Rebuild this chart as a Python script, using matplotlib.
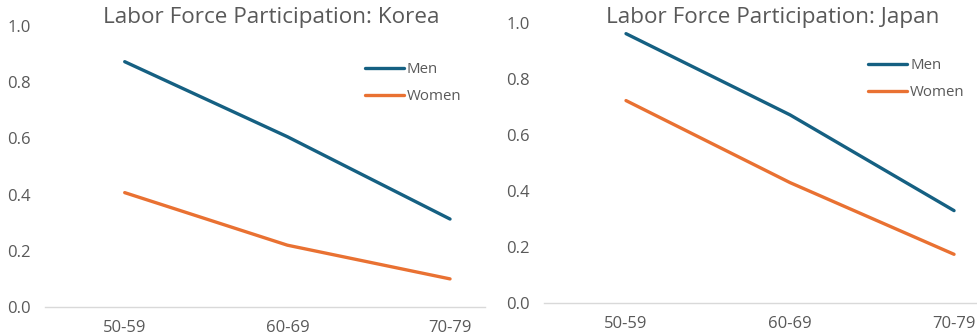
import matplotlib
matplotlib.use("Agg")
import matplotlib.pyplot as plt

plt.rcParams['font.family'] = ['Open Sans', 'DejaVu Sans']

age_groups = ["50-59", "60-69", "70-79"]
korea_men = [0.873, 0.606, 0.313]
korea_women = [0.407, 0.220, 0.100]
japan_men = [0.963, 0.673, 0.331]
japan_women = [0.724, 0.431, 0.175]
y_ticks = [0.0, 0.2, 0.4, 0.6, 0.8, 1.0]

MEN_COLOR = "#156082"
WOMEN_COLOR = "#E97132"
TEXT_COLOR = "#595959"
AXIS_COLOR = "#D9D9D9"

W, H = 977, 334
fig = plt.figure(figsize=(W / 100, H / 100), dpi=100)


def px_axes(x0, x1, y0, y1):
    # x0..x1 horizontal pixels, y0 = pixel row of value 0, y1 = pixel row of value 1
    return fig.add_axes([x0 / W, 1 - y0 / H, (x1 - x0) / W, (y0 - y1) / H])


def draw_panel(ax, men, women, title, xlim, title_xy, legend_xy):
    x = range(len(age_groups))
    ax.plot(x, men, color=MEN_COLOR, lw=2.4, label="Men", solid_capstyle="round")
    ax.plot(x, women, color=WOMEN_COLOR, lw=2.4, label="Women", solid_capstyle="round")
    ax.set_xlim(*xlim)
    ax.set_ylim(0, 1.0)
    ax.set_xticks(list(x))
    ax.set_xticklabels(age_groups)
    ax.set_yticks(y_ticks)
    ax.set_yticklabels([f"{v:.1f}" for v in y_ticks])
    for s in ["top", "right", "left"]:
        ax.spines[s].set_visible(False)
    ax.spines["bottom"].set_color(AXIS_COLOR)
    ax.spines["bottom"].set_linewidth(1.0)
    ax.spines["bottom"].set_zorder(0)
    ax.tick_params(axis="both", length=0, labelsize=12, labelcolor=TEXT_COLOR)
    ax.tick_params(axis="y", pad=10)
    ax.tick_params(axis="x", pad=9)
    ax.set_facecolor("none")
    fig.text(title_xy[0] / W, 1 - title_xy[1] / H, title, ha="center", va="center",
             fontsize=16.2, color=TEXT_COLOR)
    ax.legend(loc="upper left", bbox_to_anchor=(legend_xy[0] / W, 1 - legend_xy[1] / H),
              bbox_transform=fig.transFigure, frameon=False, fontsize=10.8,
              labelcolor=TEXT_COLOR, handlelength=2.6, handletextpad=0.2,
              labelspacing=0.8, borderpad=0, borderaxespad=0)


ax1 = px_axes(45, 485, 307, 26)
draw_panel(ax1, korea_men, korea_women, "Labor Force Participation: Korea",
           (-0.49, 2.215), (271, 18), (365, 62))

ax2 = px_axes(544, 977, 303.3, 23.3)
draw_panel(ax2, japan_men, japan_women, "Labor Force Participation: Japan",
           (-0.5, 2.14), (773, 17), (868, 58))

fig.savefig("out.png", dpi=100, facecolor="white")
